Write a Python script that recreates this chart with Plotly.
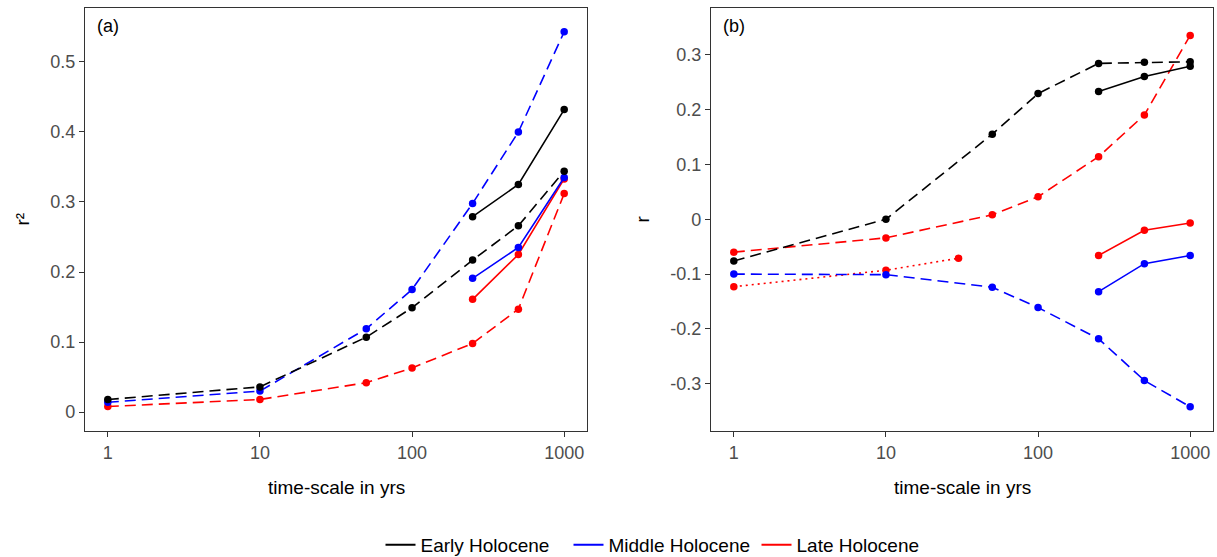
import plotly.graph_objects as go

# ---------------- data ----------------
time_full = [1, 10, 50, 100, 250, 500, 1000]
time_long = [250, 500, 1000]
time_short = [1, 10, 30]

series_names = ["Early Holocene", "Middle Holocene", "Late Holocene"]
series_colors = ["black", "blue", "red"]

# panel (a): r^2
a_early_dash = [0.018, 0.036, 0.107, 0.149, 0.217, 0.266, 0.344]
a_early_solid = [0.279, 0.325, 0.432]
a_middle_dash = [0.014, 0.030, 0.119, 0.175, 0.298, 0.400, 0.543]
a_middle_solid = [0.191, 0.235, 0.335]
a_late_dash = [0.008, 0.018, 0.042, 0.063, 0.098, 0.147, 0.312]
a_late_solid = [0.161, 0.225, 0.333]

# panel (b): r
b_early_dash = [-0.076, 0.0, 0.155, 0.229, 0.284, 0.286, 0.287]
b_early_solid = [0.233, 0.260, 0.279]
b_middle_dash = [-0.100, -0.101, -0.124, -0.161, -0.218, -0.294, -0.342]
b_middle_solid = [-0.132, -0.081, -0.066]
b_late_dash = [-0.060, -0.034, 0.008, 0.041, 0.114, 0.190, 0.335]
b_late_dot = [-0.123, -0.093, -0.071]
b_late_solid = [-0.066, -0.020, -0.007]

x_tickvals = [1, 10, 100, 1000]
x_ticktext = ["1", "10", "100", "1000"]
a_tickvals = [0, 0.1, 0.2, 0.3, 0.4, 0.5]
a_ticktext = ["0", "0.1", "0.2", "0.3", "0.4", "0.5"]
b_tickvals = [-0.3, -0.2, -0.1, 0, 0.1, 0.2, 0.3]
b_ticktext = ["-0.3", "-0.2", "-0.1", "0", "0.1", "0.2", "0.3"]

# ---------------- styles ----------------
FONT = "Liberation Sans, Arial, sans-serif"
LW = 1.6
MS = 7.5
DASH = "11px,6px"
DOT = "2px,4px"

fig = go.Figure()


def add(x, y, color, dash, xa, ya):
    fig.add_trace(go.Scatter(
        x=x, y=y, mode="lines+markers",
        line=dict(color=color, width=LW, dash=dash),
        marker=dict(color=color, size=MS),
        showlegend=False, xaxis=xa, yaxis=ya, hoverinfo="x+y"))


# panel (a)
add(time_full, a_late_dash, "red", DASH, "x", "y")
add(time_long, a_late_solid, "red", "solid", "x", "y")
add(time_full, a_middle_dash, "blue", DASH, "x", "y")
add(time_long, a_middle_solid, "blue", "solid", "x", "y")
add(time_full, a_early_dash, "black", DASH, "x", "y")
add(time_long, a_early_solid, "black", "solid", "x", "y")

# panel (b)
add(time_full, b_late_dash, "red", DASH, "x2", "y2")
add(time_short, b_late_dot, "red", DOT, "x2", "y2")
add(time_long, b_late_solid, "red", "solid", "x2", "y2")
add(time_full, b_middle_dash, "blue", DASH, "x2", "y2")
add(time_long, b_middle_solid, "blue", "solid", "x2", "y2")
add(time_full, b_early_dash, "black", DASH, "x2", "y2")
add(time_long, b_early_solid, "black", "solid", "x2", "y2")

# legend entries (lines only)
for name, color in zip(series_names, series_colors):
    fig.add_trace(go.Scatter(
        x=[None], y=[None], mode="lines", name=name,
        line=dict(color=color, width=2), showlegend=True,
        xaxis="x", yaxis="y"))

axis_common = dict(
    showgrid=False, zeroline=False, showline=True, mirror=True,
    linecolor="#333333", linewidth=1.1,
    ticks="outside", ticklen=5, tickwidth=1.1, tickcolor="#333333",
    tickfont=dict(family=FONT, size=18, color="#4D4D4D"),
)

W, H = 1217, 557
ML, MR, MT, MB = 85, 4, 8, 126
plot_w = W - ML - MR
plot_h = H - MT - MB


def py(pix):
    return 1 - (pix - MT) / plot_h


def px(pix):
    return (pix - ML) / plot_w


fig.update_layout(
    width=W, height=H,
    margin=dict(l=ML, r=MR, t=MT, b=MB, pad=0, autoexpand=False),
    paper_bgcolor="white", plot_bgcolor="white",
    font=dict(family=FONT, size=19, color="black"),
    xaxis=dict(domain=[0, 502 / plot_w], type="log", range=[-0.15, 3.15],
               tickvals=x_tickvals, ticktext=x_ticktext, anchor="y", **axis_common),
    yaxis=dict(domain=[0, 1], range=[-0.027, 0.577],
               tickvals=a_tickvals, ticktext=a_ticktext, anchor="x", **axis_common),
    xaxis2=dict(domain=[(711 - ML) / plot_w, 1], type="log", range=[-0.15, 3.15],
                tickvals=x_tickvals, ticktext=x_ticktext, anchor="y2", **axis_common),
    yaxis2=dict(domain=[0, 1], range=[-0.386, 0.385],
                tickvals=b_tickvals, ticktext=b_ticktext, anchor="x2", **axis_common),
    legend=dict(orientation="h", xref="container", yref="container",
                x=662.5 / W, xanchor="center", y=1 - 545 / H, yanchor="middle",
                font=dict(family=FONT, size=19, color="black"),
                entrywidth=143, entrywidthmode="pixels",
                bgcolor="rgba(0,0,0,0)"),
    showlegend=True,
)

annots = [
    dict(text="(a)", x=0.02, y=0.957, xref="x domain", yref="y domain",
         xanchor="left", yanchor="middle", showarrow=False,
         font=dict(family=FONT, size=18, color="black")),
    dict(text="(b)", x=0.02, y=0.957, xref="x2 domain", yref="y2 domain",
         xanchor="left", yanchor="middle", showarrow=False,
         font=dict(family=FONT, size=18, color="black")),
    dict(text="time-scale in yrs", x=0.5, y=py(487), xref="x domain", yref="paper",
         xanchor="center", yanchor="middle", showarrow=False,
         font=dict(family=FONT, size=19, color="black")),
    dict(text="time-scale in yrs", x=0.5, y=py(487), xref="x2 domain", yref="paper",
         xanchor="center", yanchor="middle", showarrow=False,
         font=dict(family=FONT, size=19, color="black")),
    dict(text="r²", x=px(22), y=0.5, xref="paper", yref="paper", textangle=-90,
         xanchor="center", yanchor="middle", showarrow=False,
         font=dict(family=FONT, size=19, color="black")),
    dict(text="r", x=px(642), y=0.5, xref="paper", yref="paper", textangle=-90,
         xanchor="center", yanchor="middle", showarrow=False,
         font=dict(family=FONT, size=19, color="black")),
]
fig.update_layout(annotations=annots)

fig.write_html(
    "out.html",
    config={"displayModeBar": False},
    post_script="document.body.style.margin='0';document.body.style.overflow='hidden';",
)
